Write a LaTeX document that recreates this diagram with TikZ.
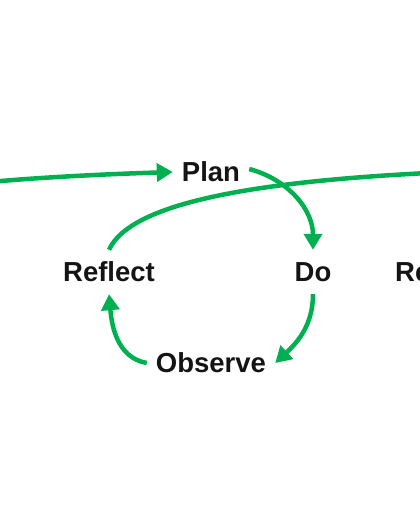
\documentclass[tikz,border=0pt]{standalone}
\usepackage{fontspec}
\setmainfont{Liberation Sans}
\usetikzlibrary{arrows.meta}
\definecolor{cyclegreen}{RGB}{0,176,80}
\begin{document}
\begin{tikzpicture}[x=1pt,y=1pt,
  lbl/.style={font=\fontsize{27.5}{33}\selectfont\bfseries, text=black!92,
    text height=20pt, text depth=0pt, inner xsep=9pt, inner ysep=12pt},
  flow/.style={cyclegreen, line width=4.5pt, -{Triangle[length=16pt,width=18pt]}}]
\useasboundingbox (0,0) rectangle (420,530);
\clip (0,0) rectangle (420,530);
\node[lbl] (plan) at (211,358) {Plan};
\node[lbl] (reflect) at (109,258) {Reflect};
\node[lbl] (do) at (313,258) {Do};
\node[lbl] (observe) at (211,167) {Observe};
\node[lbl] (reflectnext) at (441,258) {Reflect};
\coordinate (prevstart) at (-224,282);
\coordinate (nexttip) at (504,360);
\draw[flow] (prevstart) .. controls +(22,48) and +(-244,-8) .. (plan.west);
\draw[flow] (reflect.north) .. controls +(22,48) and +(-244,-8) .. (nexttip);
\draw[flow] ([yshift=3pt]plan.east) to[out=-15,in=90] (do.north);
\draw[flow] (do.south) to[out=-90,in=43] (observe.east);
\draw[flow] (observe.west) to[out=170,in=-85] (reflect.south);
\end{tikzpicture}
\end{document}
